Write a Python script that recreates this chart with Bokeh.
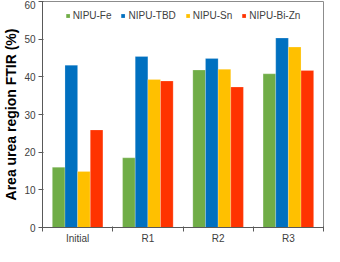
import numpy as np
from bokeh.plotting import figure
from bokeh.models import FixedTicker, Range1d, Legend, LegendItem
from bokeh.embed import file_html
from bokeh.resources import INLINE

categories = ["Initial", "R1", "R2", "R3"]
series_names = ["NIPU-Fe", "NIPU-TBD", "NIPU-Sn", "NIPU-Bi-Zn"]
fe = [16.0, 18.5, 41.8, 40.8]
tbd = [43.1, 45.4, 44.9, 50.3]
sn = [14.9, 39.3, 42.0, 47.9]
bizn = [25.9, 38.9, 37.3, 41.7]
colors = ["#70AD47", "#0070C0", "#FFC000", "#FF3300"]
y_ticks = [0, 10, 20, 30, 40, 50, 60]

FONT = "Liberation Sans"
n = len(categories)
p = figure(width=324, height=246, output_backend="svg", toolbar_location=None,
           x_range=Range1d(0, n), y_range=Range1d(0, 60),
           min_border_left=0, min_border_right=1, min_border_top=1, min_border_bottom=0)

bw = 0.18
centers = np.arange(n) + 0.5
items = []
for j, (name, vals, col) in enumerate(zip(series_names, [fe, tbd, sn, bizn], colors)):
    xs = centers + (j - 1.5) * bw
    r = p.vbar(x=xs, top=vals, width=bw, fill_color=col, line_color="white",
               line_alpha=0.35, line_width=0.6)
    items.append(LegendItem(label=name, renderers=[r]))

legend = Legend(items=items, orientation="horizontal", location="top_center",
                background_fill_alpha=0, border_line_color=None,
                label_text_font=FONT, label_text_font_size="10px",
                label_text_color="#404040",
                glyph_width=5, glyph_height=5, spacing=9, label_standoff=3,
                padding=2, margin=9)
p.add_layout(legend, "center")

p.xgrid.visible = False
p.ygrid.visible = False
p.outline_line_color = "#8c8c8c"
p.outline_line_width = 1

p.yaxis.ticker = FixedTicker(ticks=y_ticks)
p.yaxis.axis_label = "Area urea region FTIR (%)"
p.yaxis.axis_label_text_font = FONT
p.yaxis.axis_label_text_font_style = "bold"
p.yaxis.axis_label_text_font_size = "14px"
p.yaxis.axis_label_text_color = "#000000"
p.yaxis.axis_label_standoff = 2
p.yaxis.major_label_text_font = FONT
p.yaxis.major_label_text_font_size = "10px"
p.yaxis.major_label_text_color = "#404040"
p.yaxis.major_label_standoff = 3
p.yaxis.major_tick_out = 4
p.yaxis.major_tick_in = 1
p.yaxis.minor_tick_line_color = None
p.yaxis.axis_line_color = "#595959"
p.yaxis.major_tick_line_color = "#595959"

p.xaxis.ticker = FixedTicker(ticks=list(centers), minor_ticks=list(range(n + 1)))
p.xaxis.major_label_overrides = {float(c): lab for c, lab in zip(centers, categories)}
p.xaxis.major_tick_line_color = None
p.xaxis.major_tick_out = 0
p.xaxis.major_tick_in = 0
p.xaxis.minor_tick_out = 4
p.xaxis.minor_tick_in = 1
p.xaxis.minor_tick_line_color = "#595959"
p.xaxis.axis_line_color = "#595959"
p.xaxis.major_label_text_font = FONT
p.xaxis.major_label_text_font_size = "10px"
p.xaxis.major_label_text_color = "#404040"
p.xaxis.major_label_standoff = 1

open("out.html", "w").write(file_html(p, INLINE))
